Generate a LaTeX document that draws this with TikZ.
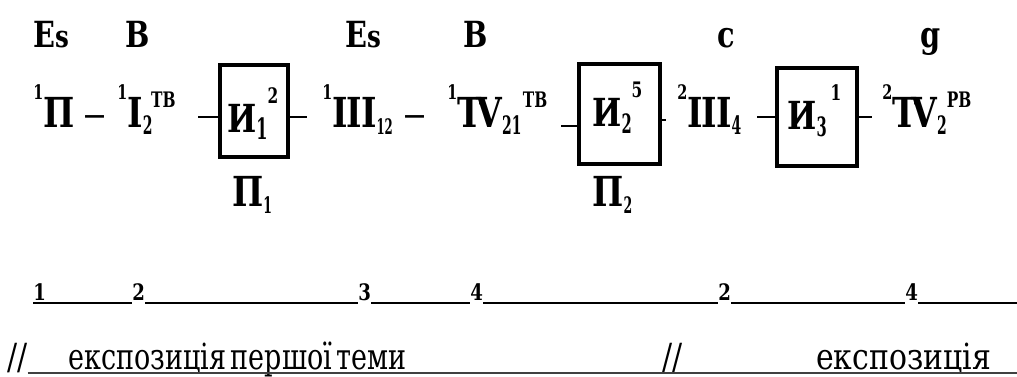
\documentclass[tikz,border=0pt]{standalone}
\usepackage{fontspec}
\setmainfont{DejaVu Serif}[FakeStretch=0.83]
\newfontfamily\fnarrow{DejaVu Serif}[FakeStretch=0.75]
\newfontfamily\fdash{DejaVu Serif}[FakeStretch=1.15]
\newfontfamily\fmain{DejaVu Serif}[FakeStretch=0.8]
\newfontfamily\fsub{DejaVu Serif}[FakeStretch=0.55]
\newfontfamily\fsup{DejaVu Serif}[FakeStretch=0.72]
\newcommand\pre[1]{\raisebox{21pt}{\fsup\bfseries\fontsize{15}{15}\selectfont #1}}
\newcommand\sps[2][15pt]{\raisebox{#1}{\fsup\bfseries\fontsize{16}{16}\selectfont #2}}
\newcommand\sbs[2][19]{\raisebox{-5pt}{\fsub\bfseries\fontsize{#1}{#1}\selectfont #2}}
\newcommand\mainf{\fmain\bfseries\fontsize{31}{31}\selectfont}
\begin{document}
\begin{tikzpicture}[x=0.75pt,y=-0.75pt,
  term/.style={inner sep=0,anchor=base west,font=\mainf},
  toplab/.style={inner sep=0,anchor=base west,font=\fmain\bfseries\fontsize{27}{27}\selectfont},
  boxlab/.style={inner sep=0,anchor=base west,font=\fmain\bfseries\fontsize{29}{29}\selectfont},
  dashtxt/.style={inner sep=0,anchor=base west,font=\fdash\fontsize{30}{30}\selectfont},
  framebox/.style={draw,line width=3pt,inner sep=0},
  conn/.style={line width=1.3pt},
  num/.style={inner sep=0,anchor=base west,font=\fmain\bfseries\fontsize{17}{17}\selectfont},
  rule/.style={line width=1.6pt},
  thinrule/.style={line width=0.8pt},
  capt/.style={inner sep=0,anchor=base west,font=\fontsize{27}{27}\selectfont},
  uline/.style={line width=0.9pt,black!75}]
\useasboundingbox (0,0) rectangle (1017,377);
% top labels
\node[toplab] (l1) at (33,48) {E\fontsize{23}{23}\selectfont s};
\node[toplab] (l2) at (125,48) {B};
\node[toplab] (l3) at (345,48) {E\fontsize{23}{23}\selectfont s};
\node[toplab] (l4) at (463,48) {B};
\node[toplab] (l5) at (717,48) {c};
\node[toplab] (l6) at (920,48) {g};
% main row terms
\node[term] (t1) at (33,128) {\pre{1}П};
\node[dashtxt] (d1) at (83,128) {–};
\node[term] (t2) at (117,128) {\pre{1}I\sbs{2}\kern-1pt\sps{TB}};
\node[term] (t3) at (322,128) {\pre{1}I\kern-0.8pt I\kern-0.8pt I\sbs[16]{12}};
\node[dashtxt] (d2) at (403,128) {–};
\node[term] (t4) at (447,128) {\pre{1}T\kern-4pt V\sbs{21}\kern1pt\sps{TB}};
\node[term] (t5) at (677,128) {\pre{2}I\kern-0.8pt I\kern-0.8pt I\sbs{4}};
\node[term] (t6) at (882,128) {\pre{2}T\kern-4pt V\sbs{2}\sps{PB}};
% boxes
\node[framebox,minimum width=51pt,minimum height=69pt] (b1) at (254,111) {};
\node[framebox,minimum width=60.75pt,minimum height=75pt] (b2) at (619.5,114) {};
\node[framebox,minimum width=60pt,minimum height=73.5pt] (b3) at (817,117) {};
\node[boxlab] (b1t) at (227,133) {И\sbs[22]{1}\sps[22pt]{2}};
\node[boxlab] (b2t) at (592,127) {И\sbs[20]{2}\sps[22pt]{5}};
\node[boxlab] (b3t) at (787,130) {И\sbs[20]{3}\kern3pt\sps[22pt]{1}};
% labels under boxes
\node[term] (p1) at (232,207) {П\sbs[17]{1}};
\node[term] (p2) at (592,207) {П\sbs[17]{2}};
% connectors
\coordinate (c1) at (198,117);
\coordinate (c2) at (307,117);
\coordinate (c3) at (561,126);
\coordinate (c4) at (666,120);
\coordinate (c5) at (757,117);
\coordinate (c6) at (872,117);
\draw[conn] (c1) -- (c1 -| b1.west);
\draw[conn] (b1.east |- c2) -- (c2);
\draw[conn] (c3) -- (c3 -| b2.west);
\draw[conn] (b2.east |- c4) -- (c4);
\draw[conn] (c5) -- (c5 -| b3.west);
\draw[conn] (b3.east |- c6) -- (c6);
% numbered rule
\node[num] (n1) at (33,301) {1};
\node[num] (n2) at (132,301) {2};
\node[num] (n3) at (358,301) {3};
\node[num] (n4) at (470,301) {4};
\node[num] (n5) at (718,301) {2};
\node[num] (n6) at (905,301) {4};
\coordinate (nend) at (1017,303);
\draw[rule] ([yshift=-1.5pt]n1.base west) -- ([yshift=-1.5pt]n2.base west);
\draw[rule] ([yshift=-1.5pt]n2.base east) -- ([yshift=-1.5pt]n3.base west);
\draw[rule] ([yshift=-1.5pt]n3.base east) -- ([yshift=-1.5pt]n4.base west);
\draw[rule] ([yshift=-1.5pt]n4.base east) -- ([yshift=-1.5pt]n5.base west);
\draw[rule] ([yshift=-1.5pt]n5.base east) -- ([yshift=-1.5pt]n6.base west);
\draw[thinrule] ([yshift=-1.5pt]n6.base east) -- (nend);
% caption
\node[capt] (s1) at (7,369) {//};
\node[capt] (s2) at (68,369) {\fnarrow\spaceskip=3.5pt експозиція першої теми};
\node[capt] (s3) at (662,369) {//};
\node[capt] (s4) at (816,369) {експозиція};
\coordinate (uend) at (1017,373);
\draw[uline] ([yshift=-3pt]s1.base east) -- (uend);
\end{tikzpicture}
\end{document}
